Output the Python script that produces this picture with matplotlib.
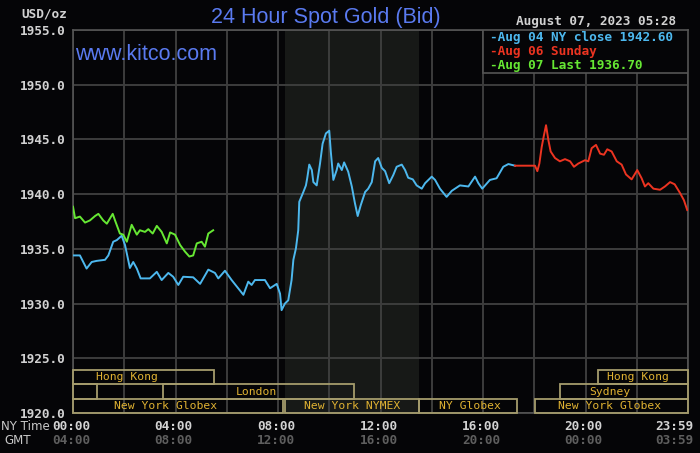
import matplotlib
matplotlib.use('Agg')
import matplotlib.pyplot as plt
from matplotlib.patches import Rectangle
import matplotlib.transforms as mtransforms

# ---------------- data ----------------
aug04_hours = [0.0, 0.27, 0.53, 0.73, 0.92, 1.25, 1.38, 1.57, 1.71, 1.90, 2.03, 2.22, 2.35, 2.49, 2.64,
               3.00, 3.27, 3.46, 3.72, 3.91, 4.11, 4.30, 4.69, 4.96, 5.28, 5.54, 5.67, 5.93, 6.19, 6.65,
               6.84, 6.97, 7.10, 7.49, 7.69, 7.95, 8.08, 8.14, 8.27, 8.40, 8.53, 8.60, 8.70, 8.79, 8.83,
               8.99, 9.09, 9.14, 9.22, 9.32, 9.38, 9.51, 9.64, 9.74, 9.87, 10.00, 10.06, 10.16, 10.29,
               10.35, 10.49, 10.58, 10.74, 10.88, 11.00, 11.11, 11.23, 11.40, 11.52, 11.66, 11.79, 11.91,
               12.05, 12.18, 12.34, 12.50, 12.63, 12.83, 12.96, 13.08, 13.26, 13.41, 13.61, 13.74, 14.00,
               14.13, 14.32, 14.58, 14.78, 15.10, 15.43, 15.69, 15.82, 15.97, 16.27, 16.53, 16.79, 16.99,
               17.25]
aug04_price = [1934.4, 1934.4, 1933.2, 1933.8, 1933.9, 1934.0, 1934.4, 1935.65, 1935.8, 1936.2, 1935.35,
               1933.25, 1933.8, 1933.2, 1932.3, 1932.3, 1932.9, 1932.15, 1932.8, 1932.45, 1931.7, 1932.45,
               1932.4, 1931.8, 1933.1, 1932.8, 1932.3, 1933.0, 1932.15, 1930.8, 1932.0, 1931.7, 1932.15,
               1932.15, 1931.4, 1931.8, 1930.9, 1929.4, 1930.0, 1930.3, 1932.15, 1934.0, 1935.05, 1936.7,
               1939.3, 1940.2, 1940.8, 1941.45, 1942.7, 1942.2, 1941.1, 1940.8, 1942.8, 1944.6, 1945.55,
               1945.8, 1943.9, 1941.3, 1942.2, 1942.8, 1942.2, 1942.9, 1942.05, 1940.7, 1939.2, 1938.0,
               1939.0, 1940.2, 1940.5, 1941.1, 1943.0, 1943.3, 1942.4, 1942.1, 1941.0, 1941.75, 1942.5,
               1942.7, 1942.2, 1941.5, 1941.35, 1940.8, 1940.5, 1941.0, 1941.6, 1941.3, 1940.5, 1939.75,
               1940.3, 1940.8, 1940.7, 1941.6, 1941.0, 1940.5, 1941.3, 1941.45, 1942.5, 1942.75, 1942.6]

aug06_hours = [17.25, 18.03, 18.12, 18.20, 18.29, 18.38, 18.46, 18.55, 18.64, 18.81, 19.00, 19.20, 19.40,
               19.55, 19.72, 19.98, 20.11, 20.24, 20.41, 20.57, 20.72, 20.85, 21.02, 21.22, 21.41, 21.58,
               21.80, 22.02, 22.19, 22.32, 22.45, 22.65, 22.91, 23.10, 23.30, 23.48, 23.69, 23.84, 23.97]
aug06_price = [1942.6, 1942.6, 1942.1, 1942.8, 1944.3, 1945.4, 1946.3, 1944.95, 1943.9, 1943.3, 1943.0,
               1943.2, 1943.0, 1942.5, 1942.8, 1943.1, 1943.0, 1944.2, 1944.5, 1943.7, 1943.6, 1944.1,
               1943.9, 1943.0, 1942.7, 1941.8, 1941.35, 1942.2, 1941.45, 1940.7, 1941.0, 1940.5, 1940.4,
               1940.7, 1941.1, 1940.9, 1940.1, 1939.45, 1938.55]

aug07_hours = [0.0, 0.08, 0.27, 0.47, 0.66, 0.86, 0.99, 1.18, 1.32, 1.55, 1.64, 1.83, 1.96, 2.10, 2.29,
               2.49, 2.61, 2.81, 2.94, 3.11, 3.27, 3.46, 3.66, 3.79, 3.98, 4.18, 4.37, 4.54, 4.69, 4.83,
               5.02, 5.15, 5.28, 5.47]
aug07_price = [1938.85, 1937.8, 1937.95, 1937.4, 1937.6, 1938.0, 1938.2, 1937.6, 1937.3, 1938.2, 1937.6,
               1936.4, 1936.3, 1935.65, 1937.2, 1936.3, 1936.7, 1936.55, 1936.8, 1936.4, 1937.1, 1936.55,
               1935.5, 1936.5, 1936.3, 1935.35, 1934.75, 1934.3, 1934.4, 1935.5, 1935.65, 1935.2, 1936.4,
               1936.7]

legend_labels = ["Aug 04 NY close 1942.60", "Aug 06 Sunday", "Aug 07 Last 1936.70"]

session_names = ["Hong Kong", "Sydney", "London", "New York Globex", "New York NYMEX",
                 "NY Globex", "New York Globex", "Sydney", "Hong Kong"]
session_start = [0.0, 0.0, 3.5, 0.0, 8.27, 13.5, 18.03, 19.0, 20.5]
session_end = [5.5, 0.95, 10.95, 8.2, 13.5, 17.32, 24.0, 24.0, 24.0]
session_row = [2, 1, 1, 0, 0, 0, 0, 1, 2]
session_label_x = [2.1, None, 7.15, 3.63, 10.9, 15.5, 20.95, 20.95, 22.05]
session_show_label = [True, False, True, True, True, True, True, True, True]

nymex_span = (8.27, 13.5)

y_ticks = [1920, 1925, 1930, 1935, 1940, 1945, 1950, 1955]
x_ticks = [0, 4, 8, 12, 16, 20, 24]
ny_labels = ["00:00", "04:00", "08:00", "12:00", "16:00", "20:00", "23:59"]
gmt_labels = ["04:00", "08:00", "12:00", "16:00", "20:00", "00:00", "03:59"]

# ---------------- style ----------------
W, H = 700, 453
BG = '#050507'
GRID = '#3d3d3d'
BLUE = '#4db8ee'
RED = '#ec3421'
GREEN = '#66e833'
TITLE = '#5a7af0'
SESS_TXT = '#e0b232'
SESS_EDGE = '#a59c6c'
MONO = 'DejaVu Sans Mono'

fig = plt.figure(figsize=(W / 100, H / 100), dpi=100, facecolor=BG)
ax = fig.add_axes([73 / W, 1 - 413 / H, 615 / W, 383 / H])
ax.set_facecolor(BG)
ax.set_xlim(0, 24)
ax.set_ylim(1920, 1955)

# grid
for yv in y_ticks:
    ax.axhline(yv, color=GRID, lw=1.4, zorder=1)
for xv in range(0, 25, 2):
    ax.axvline(xv, color=GRID, lw=1.4, zorder=1)
ax.axvspan(nymex_span[0], nymex_span[1], color='#171917', zorder=0.5, lw=0)

for s in ax.spines.values():
    s.set_color('#555555')
    s.set_linewidth(1.2)

ax.set_xticks([])
ax.set_yticks(y_ticks)
ax.set_yticklabels([f"{v:.1f}" for v in y_ticks], family=MONO, fontweight='bold',
                   fontsize=9.2, color='#d2d2d2')
ax.tick_params(axis='y', length=0, pad=5)

# series
ax.plot(aug04_hours, aug04_price, color=BLUE, lw=1.4, zorder=3)
ax.plot(aug06_hours, aug06_price, color=RED, lw=1.4, zorder=3)
ax.plot(aug07_hours, aug07_price, color=GREEN, lw=1.4, zorder=4)

# sessions
trans = mtransforms.blended_transform_factory(ax.transData, ax.transAxes)
row_h = 14.3 / 383
for name, s0, s1, r, lx, show in zip(session_names, session_start, session_end, session_row,
                                       session_label_x, session_show_label):
    ax.add_patch(Rectangle((s0, r * row_h), s1 - s0, row_h, transform=trans, fill=False,
                           edgecolor=SESS_EDGE, lw=1.3, zorder=5, clip_on=False))
    if show:
        ax.text(lx, r * row_h + row_h / 2, name, transform=trans, ha='center', va='center',
                family=MONO, fontsize=8.2, color=SESS_TXT, zorder=6)

# legend box
ax.add_patch(Rectangle((483 / W * 0 + (483 - 73) / 615, 1 - 43 / 383), (688 - 483) / 615, 43 / 383,
                       transform=ax.transAxes, facecolor=BG, edgecolor='#555555', lw=1.2, zorder=7))
for i, (lab, col) in enumerate(zip(legend_labels, [BLUE, RED, GREEN])):
    fig.text(490 / W, 1 - (37 + 14 * i) / H, "-" + lab, ha='left', va='center', family=MONO,
             fontweight='bold', fontsize=9.2, color=col)

# x labels
for xv, nl, gl in zip(x_ticks, ny_labels, gmt_labels):
    ha = 'right' if xv == 24 else 'center'
    xx = 24.2 if xv == 24 else xv - 0.08
    ax.text(xx, -14 / 383, nl, transform=trans, ha=ha, va='center', family=MONO,
            fontweight='bold', fontsize=9.2, color='#d2d2d2')
    ax.text(xx, -27 / 383, gl, transform=trans, ha=ha, va='center', family=MONO,
            fontweight='bold', fontsize=9.2, color='#5e5e5e')

fig.text(50 / W, 1 - 427 / H, "NY Time", ha='right', va='center', family='DejaVu Sans',
         fontsize=8.6, color='#c8c8c8')
fig.text(31 / W, 1 - 440 / H, "GMT", ha='right', va='center', family='DejaVu Sans',
         fontsize=8.6, color='#c8c8c8')

# header texts
fig.text(67 / W, 1 - 14 / H, "USD/oz", ha='right', va='center', family=MONO,
         fontweight='bold', fontsize=9.2, color='#d2d2d2')
fig.text(326 / W, 1 - 17 / H, "24 Hour Spot Gold (Bid)", ha='center', va='center',
         family='Liberation Sans', fontsize=15.5, color=TITLE)
fig.text(676 / W, 1 - 22 / H, "August 07, 2023 05:28", ha='right', va='center', family=MONO,
         fontweight='bold', fontsize=9.2, color='#d2d2d2')
ax.text(0.004, 1 - 24 / 383, "www.kitco.com", transform=ax.transAxes, ha='left', va='center',
        family='Liberation Sans', fontsize=15.5, color=TITLE, zorder=8)

fig.savefig('out.png', dpi=100, facecolor=BG)
